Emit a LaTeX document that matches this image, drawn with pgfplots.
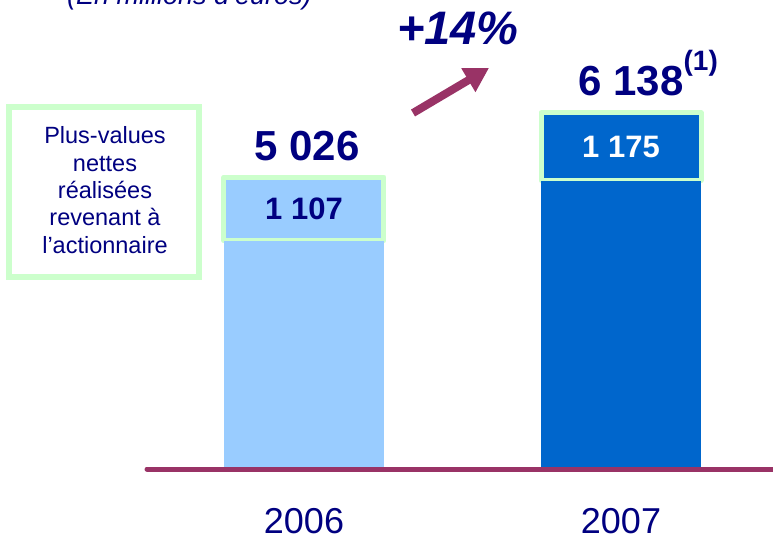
\documentclass[border=0pt]{standalone}
\usepackage{pgfplots}
\pgfplotsset{compat=1.18}
\usepackage{fontspec}
\setmainfont{Liberation Sans}
\usetikzlibrary{arrows.meta}
\definecolor{navy}{HTML}{000080}
\definecolor{lightbar}{HTML}{99CCFF}
\definecolor{darkbar}{HTML}{0066CC}
\definecolor{greenb}{HTML}{CCFFCC}
\definecolor{maroon}{HTML}{993366}
\pgfplotsset{
  base/.style={
    at={(146pt,72pt)}, anchor=south west, scale only axis,
    width=627pt, height=403.9pt,
    xmin=-0.4984, xmax=1.4795, ymin=0, ymax=7000,
    axis line style={draw=none}, tick style={draw=none},
    major tick length=0pt, ytick=\empty,
    ybar stacked, bar width=160pt, clip=false,
  }
}
\begin{document}
\begin{tikzpicture}
\useasboundingbox (0,0) rectangle (773pt,539pt);
\clip (0,0) rectangle (773pt,539pt);
% 2006
\begin{axis}[base, xtick={0,1}, xticklabels={2006,2007},
  xticklabel style={anchor=base, inner sep=0pt, yshift=-66pt, font=\fontsize{36}{39}\selectfont, text=navy}]
\addplot[fill=lightbar, draw=none] coordinates {(0,3919)};
\addplot[fill=lightbar, draw=greenb, line width=5pt, line join=round] coordinates {(0,1107)};
\coordinate (s06) at (axis cs:0,4472.5);
\coordinate (t06) at (axis cs:0,5026);
\end{axis}
% 2007
\begin{axis}[base, xtick=\empty]
\addplot[fill=darkbar, draw=none] coordinates {(1,4963)};
\addplot[fill=darkbar, draw=greenb, line width=5pt, line join=round] coordinates {(1,1175)};
\coordinate (s07) at (axis cs:1,5550.5);
\coordinate (t07) at (axis cs:1,6138);
\end{axis}
% value labels
\node[font=\fontsize{31}{34}\selectfont\bfseries, text=navy] at (s06) {1 107};
\node[font=\fontsize{31}{34}\selectfont\bfseries, text=white] at (s07) {1 175};
\node[anchor=base, xshift=3pt, yshift=17pt, font=\fontsize{42}{45}\selectfont\bfseries, text=navy] at (t06) {5 026};
\node[anchor=base west, xshift=-46pt, yshift=17pt, font=\fontsize{42}{45}\selectfont\bfseries, text=navy] at (t07) {6 138\raisebox{25pt}{\fontsize{28}{30}\selectfont(1)}};
% baseline
\draw[maroon, line width=5pt, line cap=round] (147pt,70pt) -- (790pt,70pt);
% legend box
\draw[greenb, line width=6pt] (9pt,432pt) rectangle (199pt,262pt);
\begin{scope}[every node/.style={anchor=base, text=navy, font=\fontsize{23.5}{27}\selectfont, inner sep=0pt}]
\node at (105pt,395pt) {Plus-values};
\node at (105pt,367.7pt) {nettes};
\node at (105pt,340.5pt) {réalisées};
\node at (105pt,313.2pt) {revenant à};
\node at (105pt,286pt) {l’actionnaire};
\end{scope}
% growth
\node[anchor=base, inner sep=0pt, font=\fontsize{47}{50}\selectfont\bfseries\itshape, text=navy] at (458pt,494pt) {+14\%};
\draw[maroon, line width=8pt, -{Triangle[length=24pt,width=26pt]}] (413pt,426pt) -- (489pt,471pt);
% title
\node[anchor=base west, inner sep=0pt, font=\fontsize{27}{30}\selectfont\itshape, text=navy] at (67pt,534.5pt) {(En millions d’euros)};
\end{tikzpicture}
\end{document}
